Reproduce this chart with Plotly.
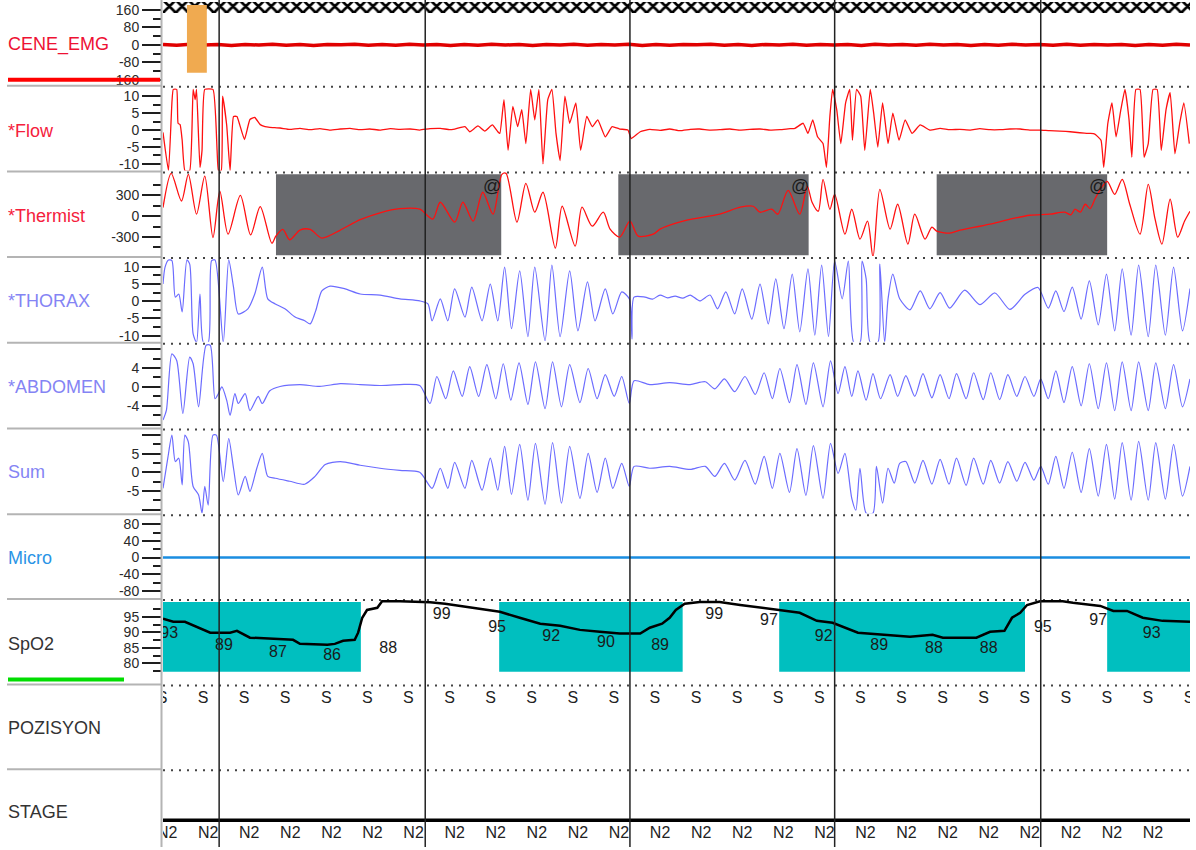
import plotly.graph_objects as go

# ---------------------------------------------------------------
# Polysomnography page: 150 s window, one row per channel
# samples are (time in s, value in channel units)
# ---------------------------------------------------------------

emg_uv = [2, -2, 3, -1, 2, -3, 2, -1, 3, -2,
          1, -3, 2, 0, 3, -2, 1, -2, 3, -1,
          2, -3, 1, -2, 3, -1, 2, -3, 1, -1,
          3, -2, 2, -1, 3, -3, 1, -2, 2, 0,
          3, -2, 1, -3, 2, -1, 3, -2, 2, -1,
          1, -3, 3, -1, 2, -2, 3, -1, 2, -3,
          1, -2, 3, -1, 1, -2, 3, -2, 2, -1,
          2, -3, 1, -2, 3, -1]

flow = [(0.0, -0.7), (0.8, -12), (1.3, 8), (1.5, 12), (2.0, 12), (2.2, 2), (2.5, 1.6), (2.8, -3),
        (3.2, -12), (3.9, -12), (4.4, 12), (4.7, 9), (4.9, 12), (5.4, -11), (5.7, -6), (6.1, 12),
        (7.3, 12), (7.9, -6), (8.1, -12), (8.5, -12), (8.7, 10), (9.3, 1.5), (9.8, -12), (10.3, 4),
        (10.8, 4), (11.2, 1.6), (11.9, -2.8), (12.7, 3.1), (13.4, 3.7), (14.2, 1.6), (14.9, 1.0),
        (15.6, 0.8), (17.1, 0.6), (18.5, 0.2), (20.0, 0.5), (21.5, 0.1), (22.9, 0.4), (24.4, 0.0),
        (25.9, 0.3), (27.3, 0.5), (28.8, 0.1), (30.2, 0.3), (31.7, 0.0), (33.2, 0.4), (34.6, 0.2),
        (36.1, 0.3), (37.5, 0.0), (39.0, 0.4), (40.5, 0.5), (41.9, 0.1), (42.6, 0.3), (44.1, 1.0),
        (44.8, -0.5), (46.0, 1.2), (47.0, -0.3), (48.1, 1.5), (48.9, -0.5),
        (49.2, -1), (49.8, 9), (50.4, -6), (51.1, 7), (51.8, 1), (52.4, 6), (53.0, -4), (53.7, 12),
        (54.3, 3), (54.9, 12), (55.5, -10), (56.2, 9), (56.8, 12), (57.4, -1), (58.0, -9), (58.7, 10),
        (59.4, 2), (60.3, 8), (61.0, -6), (61.9, 4), (62.7, 1), (63.5, 3), (64.6, -2), (65.6, 1),
        (66.7, 0.3), (67.9, 0), (68.4, -2.5), (69.7, -0.5),
        (71.1, 0.2), (72.6, -0.1), (74.0, 0.3), (75.5, -0.2), (77.0, 0.2), (78.4, 0.3), (79.9, 0.0),
        (81.3, 0.1), (82.8, 0.3), (84.3, 0.0), (85.7, 0.2), (87.2, 0.3), (88.7, 0.0), (90.1, 0.1),
        (91.6, 0.4), (92.3, 0.5),
        (93.5, 2), (94.2, -1), (94.9, 3), (95.6, -2), (96.4, -4), (96.9, -11), (97.4, 4), (97.8, 12),
        (98.4, 6), (99.0, -4), (99.7, 8), (100.3, 12), (100.7, -3), (101.3, 12), (101.9, 10),
        (102.5, -6), (103.3, 12), (103.8, 5), (104.4, -5), (105.1, 8), (105.9, -4), (106.6, 5),
        (107.5, -3), (108.4, 3), (109.4, -1), (110.6, 1.5), (112.0, 0),
        (113.5, 0.5), (114.9, 0.1), (116.4, 0.2), (117.9, 0.0), (119.3, 0.4), (120.8, 0.1),
        (122.2, 0.1), (123.7, 0.3), (125.2, 0.3), (126.6, 0.0), (128.1, 0.0), (129.5, -0.2),
        (131.0, -0.3), (132.5, -0.5), (133.9, -0.8), (135.4, -1.0), (136.1, -1.2),
        (137.0, -3), (137.4, -11), (138.0, 2), (138.6, 8), (139.2, -2), (139.9, 6), (140.5, 12),
        (141.1, 3), (141.5, -8), (142.1, 12), (142.7, 12), (143.3, -8), (143.9, -4), (144.6, 12),
        (145.2, 12), (145.8, -6), (146.5, 6), (147.1, 11), (147.8, -7), (148.5, 2), (149.1, 8),
        (149.9, -4)]

thermist = [(0.0, 125), (1.2, 620), (2.7, 220), (3.7, 605), (4.9, 30), (6.1, 580), (7.3, -307),
            (8.3, 364), (9.5, -259), (11.3, 300), (12.8, -270), (14.2, 140), (15.9, -390),
            (16.5, -285), (17.5, -190), (18.5, -340), (20.0, -200), (21.5, -190), (23.2, -315),
            (25.9, -200), (28.8, -50), (31.7, 50), (34.6, 110), (37.5, 101), (39.4, -43),
            (40.5, 202), (42.6, -86), (43.8, 202), (45.3, -72), (46.7, 346), (48.2, 29),
            (49.5, 605), (50.1, 619), (51.7, -86), (53.0, 475), (54.3, 58), (55.5, 346),
            (57.3, -461), (58.3, 144), (60.2, -432), (61.2, 130), (62.7, -144), (64.3, 58),
            (65.3, -187), (66.7, -302), (68.2, -72), (69.4, -288), (71.6, -259), (72.6, -187),
            (76.5, -58), (81.3, 29), (84.3, 130), (86.2, 144), (87.2, 58), (88.9, 101), (89.8, 29),
            (91.3, 374), (93.0, 29), (94.1, 432), (94.8, 202), (95.7, 72),
            (96.4, 533), (97.4, 101), (98.1, 317), (99.6, -259), (100.6, 101), (101.8, -331),
            (102.9, -72), (103.7, -590), (104.7, 389), (106.2, -187), (107.3, 173), (108.8, -403),
            (109.8, 29), (111.3, -331), (112.3, -158), (113.0, -216), (114.9, -245), (116.4, -202),
            (118.6, -158), (120.8, -115), (123.7, -43), (126.6, 14), (129.5, 29), (131.7, 58),
            (132.6, 20), (133.2, 101), (134.0, 60), (134.7, 173), (135.4, 110), (136.1, 245),
            (136.9, 389), (137.9, 504), (139.0, 317), (140.1, 533), (141.2, 173), (142.7, -259),
            (143.9, 461), (144.9, -43), (145.9, -403), (147.1, 245), (148.2, -302), (149.2, -72),
            (150.0, 72)]

thorax = [(0.0, 5.0), (0.3, 9.9), (0.8, 12), (1.3, 11.8), (1.8, 1.2), (2.3, 2.1), (2.8, -3.1),
          (3.5, 12), (3.9, 10.8), (4.4, -9.5), (4.9, -12), (5.4, 2.1), (5.9, -12), (6.6, -12),
          (7.1, 11.8), (7.6, 12), (8.8, -12), (9.6, 12), (10.3, 4.1), (11.0, -3.7),
          (12.4, -2.2), (13.4, 2.1), (14.5, 9.9), (15.3, 0.7), (16.4, -0.8), (17.8, -2.2),
          (19.3, -4.6), (20.7, -5.7), (21.5, -6.6), (22.3, -2.8), (23.2, 3.0), (24.4, 4.4),
          (26.6, 3.6), (28.8, 2.1), (31.7, 1.8), (34.6, 0.7), (37.5, 0.1), (38.7, -0.8),
          (39.3, -5.7), (40.5, 0.7), (41.6, -5.7), (42.6, 3.6), (44.1, -4.6), (45.1, 4.1),
          (46.6, -5.7), (47.8, 5.0), (48.9, -5.7),
          (49.9, 9.9), (50.9, -8.0), (52.1, 8.8), (53.3, -10.3), (54.3, 9.9), (55.8, -11.5),
          (56.8, 10.5), (58.0, -10.3), (59.4, 8.8), (60.6, -8.6), (62.0, 5.6), (63.1, -5.7),
          (64.6, 3.6), (65.7, -3.7), (67.0, 2.7), (68.1, 0.7), (68.5, -11), (68.8, 1.2),
          (70.4, 1.2), (71.5, 0.6), (72.6, 1.8), (73.7, 1.0), (74.8, 1.5), (75.9, 0.9), (77.0, 1.8),
          (78.4, 0.1), (79.9, 1.8), (81.0, -2.2), (82.2, 2.7), (83.5, -3.7), (84.6, 3.6),
          (86.0, -5.2), (87.2, 5.0), (88.4, -6.6), (89.5, 6.5), (90.7, -8.0), (91.9, 7.9),
          (93.0, -8.9), (94.2, 9.4), (95.2, -9.9), (96.2, 10.5), (97.2, -10.3), (98.1, 11.7),
          (99.2, 0.7), (100.1, 11.7), (100.9, -12), (101.8, -12), (102.1, 11.7), (102.7, 6.5),
          (103.3, -12), (104.4, -12), (104.7, 10.8), (105.4, -12), (105.9, 0.7), (106.6, 7.9),
          (107.6, 0.7), (109.1, -2.5), (110.6, 3.0), (112.0, -2.2), (113.5, 2.5), (114.9, -2.0),
          (117.1, 3.2), (119.3, -1.0), (121.5, 2.4), (123.7, -2.4), (125.9, 2.0), (127.8, 4.0),
          (129.3, -2.0), (130.4, 3.0), (131.6, -3.0), (132.8, 4.1), (134.1, -5.2), (135.3, 5.9),
          (136.6, -6.9), (137.8, 7.9), (139.0, -8.6), (140.1, 9.4), (141.4, -9.9), (142.5, 10.5),
          (143.9, -10.3), (145.0, 10.5), (146.4, -9.9), (147.6, 9.9), (148.9, -8.6), (150.0, 3.7)]

abdomen = [(0.0, -7.0), (0.5, -4.9), (1.3, 7.0), (2.0, 5.6), (2.9, -5.6), (3.9, 6.3), (4.4, 4.9),
           (5.2, -4.2), (6.3, 8.8), (6.9, 8.8), (7.6, -2.5), (8.1, -1.4), (8.6, 0.0), (9.3, -2.8),
           (9.8, -6.0), (10.5, -1.4), (11.0, -3.5), (12.0, -1.4), (12.7, -5.0), (13.9, -2.0),
           (14.5, -3.5), (15.6, -0.8), (17.1, 0.1), (20.0, 0.5), (22.9, 0.1), (25.9, 0.7),
           (28.8, 0.5), (31.7, 0.3), (34.6, 0.5), (37.5, 0.3),
           (39.0, -3.5), (40.0, 2.2), (41.3, -2.5), (42.4, 3.4), (43.7, -2.0), (44.8, 4.3),
           (46.1, -2.0), (47.3, 4.7), (48.6, -2.5),
           (49.7, 4.9), (50.8, -2.8), (52.0, 5.1), (53.3, -3.7), (54.4, 5.3), (55.8, -4.6),
           (56.9, 5.3), (58.2, -4.2), (59.4, 4.7), (60.9, -3.3), (62.1, 3.9), (63.4, -2.5),
           (64.6, 2.6), (65.9, -2.0), (67.0, 2.2), (68.1, -3.5), (68.8, 1.3),
           (71.1, 0.5), (74.0, 0.9), (77.0, 0.5), (79.2, 1.1), (80.6, -0.4), (82.0, 1.7),
           (83.5, -1.0), (85.0, 2.2), (86.5, -1.6), (87.8, 3.0), (89.0, -2.5), (90.1, 3.9),
           (91.5, -3.3), (92.6, 4.7), (93.9, -3.7), (95.0, 5.1), (96.4, -4.2), (97.5, 5.5),
           (98.6, -1.4), (99.6, 4.3), (100.6, -2.0), (101.5, 3.4), (102.7, -2.8), (103.7, 2.8),
           (104.8, -2.5), (106.2, 2.6), (107.3, -2.0), (108.5, 2.4), (109.8, -2.0), (111.0, 2.8),
           (112.3, -2.3), (113.5, 2.6), (114.8, -2.5), (115.9, 2.8), (117.3, -2.5), (118.4, 3.0),
           (119.8, -2.7), (120.9, 3.0), (122.2, -2.7), (123.4, 2.6), (124.7, -2.0), (125.9, 2.2),
           (127.2, -2.0), (128.2, 1.7), (129.3, -2.5), (130.4, 3.4), (131.6, -3.3), (132.8, 4.3),
           (134.1, -4.0), (135.3, 4.9), (136.6, -4.6), (137.8, 5.1), (139.0, -5.0), (140.1, 5.3),
           (141.4, -5.0), (142.5, 5.3), (143.9, -5.0), (145.0, 5.1), (146.4, -4.6), (147.6, 4.7),
           (148.9, -4.2), (150.0, 1.7)]

effort_sum = [(0.0, -4.3), (0.7, 3.8), (1.3, 10), (1.8, 2.9), (2.3, 3.8), (2.8, -3.4), (3.2, 10),
              (3.7, 8.2), (4.4, -3.8), (5.2, -6.1), (5.7, -11), (6.1, -3.8), (6.6, -8.8), (7.3, 10),
              (7.8, 10), (8.8, -2.5), (9.6, 9.1), (10.3, 1.1), (11.0, -6.1), (12.0, -1.1),
              (12.7, -5.1), (13.7, 1.1), (14.5, 5.1), (15.3, -1.1), (16.4, -1.6), (18.5, -2.4),
              (20.7, -3.2), (22.2, -1.1), (23.7, 2.1), (25.9, 2.9), (28.8, 1.9), (31.7, 1.1),
              (34.6, 0.5), (37.5, 0.0),
              (39.3, -4.3), (40.5, 1.1), (41.6, -4.3), (42.6, 2.7), (44.1, -4.3), (45.1, 3.2),
              (46.6, -4.8), (47.8, 3.8), (48.9, -4.8),
              (49.9, 7.0), (50.9, -5.9), (52.1, 7.5), (53.3, -7.5), (54.4, 7.8), (55.8, -8.6),
              (56.9, 8.0), (58.2, -8.3), (59.4, 7.0), (60.9, -7.0), (62.1, 5.1), (63.4, -5.4),
              (64.6, 3.8), (65.7, -4.3), (67.0, 2.4), (68.1, -3.8), (68.8, 1.6),
              (71.1, 1.1), (74.0, 1.6), (77.0, 0.8), (79.2, 1.6), (80.6, -1.1), (82.0, 2.4),
              (83.5, -2.1), (85.0, 3.2), (86.5, -3.2), (87.8, 4.3), (89.0, -4.3), (90.1, 5.1),
              (91.5, -5.4), (92.6, 6.4), (93.9, -6.2), (95.0, 7.2), (96.4, -7.0), (97.5, 7.8),
              (98.6, -0.3), (99.6, 5.1), (100.6, -7.0), (101.2, -10.2), (101.8, 1.1), (102.7, -11),
              (103.7, -11), (104.2, 1.6), (105.1, -8.3), (105.9, 1.1), (106.8, -2.9), (107.6, 2.4),
              (108.5, 2.9), (109.8, -2.9), (111.0, 3.2), (112.3, -3.2), (113.5, 3.5), (114.8, -3.2),
              (115.9, 3.8), (117.3, -3.5), (118.4, 3.8), (119.8, -3.2), (120.9, 3.2), (122.2, -2.9),
              (123.4, 2.9), (124.7, -2.4), (125.9, 2.7), (127.2, -2.1), (128.2, 1.6),
              (129.3, -3.2), (130.4, 4.3), (131.6, -4.3), (132.8, 5.4), (134.1, -5.4), (135.3, 6.4),
              (136.6, -6.4), (137.8, 7.5), (139.0, -7.2), (140.1, 8.0), (141.4, -7.5), (142.5, 8.3),
              (143.9, -7.5), (145.0, 8.0), (146.4, -7.2), (147.6, 7.5), (148.9, -6.4), (150.0, 1.6)]

micro = [(0.0, 0), (150.0, 0)]

spo2 = [(0.0, 94.4), (1.5, 93.4), (3.2, 93.4), (5.1, 91.5), (6.9, 89.9), (9.8, 89.9), (10.8, 90.5),
        (12.7, 88.3), (15.6, 87.9), (19.0, 87.6), (20.0, 86.3), (24.0, 86.0), (25.1, 86.3),
        (26.3, 87.3), (28.0, 87.6), (28.5, 89.9), (29.1, 94.7), (29.8, 97.2), (31.3, 97.9),
        (32.0, 100.0), (34.6, 100.0), (39.0, 99.7), (41.2, 99.2), (43.4, 98.5), (46.3, 97.6),
        (49.2, 96.6), (52.1, 94.7), (55.1, 92.8), (58.0, 92.1), (60.9, 90.8), (63.8, 90.2),
        (66.7, 89.6), (69.7, 89.6), (71.1, 91.5), (72.9, 92.8), (74.0, 94.7), (74.9, 97.2),
        (76.2, 99.2), (78.4, 99.8), (81.3, 99.8), (84.3, 98.8), (87.2, 97.9), (90.1, 97.2),
        (93.0, 96.3), (95.5, 93.7), (97.8, 93.1), (101.5, 89.9), (106.2, 89.2), (109.1, 88.6),
        (112.4, 89.2), (113.9, 88.3), (118.8, 88.3), (120.8, 90.2), (122.9, 90.5), (124.0, 94.7),
        (125.2, 96.3), (126.2, 98.8), (128.1, 100.0), (131.4, 100.0), (132.9, 99.5),
        (136.9, 98.5), (138.8, 96.9), (140.8, 96.9), (143.1, 94.7), (146.0, 93.7), (150.0, 93.4)]

spo2_label_t = [0.9, 8.9, 16.8, 24.7, 32.9, 40.7, 48.8, 56.7, 64.7, 72.6,
                80.5, 88.5, 96.5, 104.6, 112.6, 120.6, 128.5, 136.6, 144.4]
spo2_label_v = [93, 89, 87, 86, 88, 99, 95, 92, 90, 89,
                99, 97, 92, 89, 88, 88, 95, 97, 93]

# scored events
epoch_marks = [8.2, 38.3, 68.2, 98.1, 128.2]
apnea_windows = [(16.5, 49.4), (66.5, 94.3), (113.0, 137.9)]
desat_windows = [(0.0, 28.9), (49.1, 75.9), (90.0, 125.9), (137.9, 150.0)]
arousal_window = (3.5, 6.4)

# body position and sleep stage per 6 s mini-epoch
position_t = [-0.15, 5.85, 11.85, 17.85, 23.85, 29.85, 35.85, 41.85, 47.85, 53.85, 59.85,
              65.85, 71.85, 77.85, 83.85, 89.85, 95.85, 101.85, 107.85, 113.85, 119.85,
              125.85, 131.85, 137.85, 143.85, 149.85]
position_code = ["S"] * len(position_t)
stage_t = [0.6, 6.6, 12.6, 18.6, 24.6, 30.6, 36.6, 42.6, 48.6, 54.6, 60.6, 66.6, 72.6, 78.6,
           84.6, 90.6, 96.6, 102.6, 108.6, 114.6, 120.6, 126.6, 132.6, 138.6, 144.6]
stage_code = ["N2"] * len(stage_t)

# ---------------------------------------------------------------
W, H = 1196, 850
L, R = 163, 6
PLOT_W = W - L - R
FONT = "Liberation Sans, Arial, sans-serif"

rows_px = [(0, 85), (85, 171), (171, 257), (257, 343), (343, 429),
           (429, 515), (515, 600), (600, 686), (686, 771), (771, 850)]


def dom(i):
    top, bot = rows_px[i]
    return [1 - bot / H, 1 - top / H]


def px_x(px):
    return (px - L) / PLOT_W


def px_y(py):
    return 1 - py / H


def split(pairs):
    return [p[0] for p in pairs], [p[1] for p in pairs]


def yax(i, rng, major=None, text=None, minor=None):
    a = dict(domain=dom(i), range=rng, anchor="x", showgrid=False, zeroline=False,
             showline=False, fixedrange=True)
    if major is None:
        a.update(visible=False)
        return a
    a.update(tickmode="array", tickvals=major,
             ticktext=text if text else [str(v) for v in major],
             ticks="outside", ticklen=20, tickwidth=2, tickcolor="#1e1e1e",
             tickfont=dict(family=FONT, size=14, color="#2a2a2a"),
             minor=dict(tickmode="array", tickvals=minor, ticks="outside", ticklen=9,
                        tickwidth=2, tickcolor="#1e1e1e"))
    return a


fig = go.Figure()

RED = "#ff1010"
BLUE = "#6c6cff"

# hatched event strip along the top of the EMG row
fig.add_trace(go.Scatter(x=[0, 150, 150, 0, 0], y=[146, 146, 197, 197, 146], yaxis="y",
                         mode="lines", fill="toself", fillcolor="white", line=dict(width=0),
                         fillpattern=dict(shape="x", size=9, solidity=0.5, fgcolor="#000",
                                          fgopacity=1, bgcolor="white"),
                         hoverinfo="skip"))

emg_t = [i * 150 / (len(emg_uv) - 1) for i in range(len(emg_uv))]
fig.add_trace(go.Scatter(x=emg_t, y=emg_uv, yaxis="y", mode="lines",
                         line=dict(color="#e00000", width=3.5)))

channels = [(flow, "y2", RED, 1.3, 0.4), (thermist, "y3", RED, 1.3, 0.8),
            (thorax, "y4", BLUE, 1.2, 0.7), (abdomen, "y5", BLUE, 1.2, 0.7),
            (effort_sum, "y6", BLUE, 1.2, 0.7), (micro, "y7", "#1a8de0", 2.5, 0),
            (spo2, "y8", "#000000", 2.5, 0)]
for pairs, ya, col, w, sm in channels:
    t, v = split(pairs)
    line = dict(color=col, width=w)
    if sm:
        line.update(shape="spline", smoothing=sm)
    fig.add_trace(go.Scatter(x=t, y=v, yaxis=ya, mode="lines", line=line))

# SpO2 value read-outs, printed just beneath each reading
LABEL_DROP = 3.5
fig.add_trace(go.Scatter(x=spo2_label_t, y=[v - LABEL_DROP for v in spo2_label_v], yaxis="y8",
                         mode="text", text=[str(v) for v in spo2_label_v], cliponaxis=True,
                         textfont=dict(family=FONT, size=16, color="#1a1a1a")))

# position row
fig.add_trace(go.Scatter(x=position_t, y=[0.82] * len(position_t), yaxis="y9", mode="text",
                         text=position_code, cliponaxis=True,
                         textfont=dict(family=FONT, size=16, color="#222")))

# hypnogram row: stage line at N2 plus per-epoch stage codes
N2_LEVEL = 0.34
fig.add_trace(go.Scatter(x=[0, 150], y=[N2_LEVEL, N2_LEVEL], yaxis="y10", mode="lines",
                         line=dict(color="#000", width=3.5)))
fig.add_trace(go.Scatter(x=stage_t, y=[0.17] * len(stage_t), yaxis="y10", mode="text",
                         text=stage_code, cliponaxis=True,
                         textfont=dict(family=FONT, size=16, color="#222")))

shapes = []
# apnea events on the thermistor channel
for a, b in apnea_windows:
    shapes.append(dict(type="rect", xref="x", yref="y3", x0=a, x1=b, y0=-562, y1=605,
                       fillcolor="#68696d", line=dict(width=0), layer="below"))
# desaturation events on SpO2
for a, b in desat_windows:
    shapes.append(dict(type="rect", xref="x", yref="y8", x0=a, x1=b, y0=77.3, y1=99.8,
                       fillcolor="#00bfbf", line=dict(width=0), layer="below"))
# arousal marker on EMG
shapes.append(dict(type="rect", xref="x", yref="y", x0=arousal_window[0], x1=arousal_window[1],
                   y0=-128, y1=183, fillcolor="#f0aa50", line=dict(width=0), layer="above"))

# dotted row separators in the trace area and panel borders on the label side
for top, bot in rows_px[1:]:
    shapes.append(dict(type="line", xref="paper", yref="paper", x0=0, x1=1,
                       y0=px_y(top + 2), y1=px_y(top + 2),
                       line=dict(color="#444", width=2, dash="2px,6px"), layer="below"))
    shapes.append(dict(type="line", xref="paper", yref="paper", x0=px_x(7), x1=px_x(161),
                       y0=px_y(top + 1), y1=px_y(top + 1),
                       line=dict(color="#b4b4b4", width=2)))
shapes.append(dict(type="line", xref="paper", yref="paper", x0=px_x(161.5), x1=px_x(161.5),
                   y0=0, y1=1, line=dict(color="#b4b4b4", width=2)))
# channel colour keys
shapes.append(dict(type="line", xref="paper", yref="paper", x0=px_x(8), x1=px_x(160),
                   y0=px_y(80), y1=px_y(80), line=dict(color="#ff0000", width=4)))
shapes.append(dict(type="line", xref="paper", yref="paper", x0=px_x(8), x1=px_x(124),
                   y0=px_y(682), y1=px_y(682), line=dict(color="#00dd00", width=4)))

# 30 s epoch boundaries
for t in epoch_marks:
    shapes.append(dict(type="line", xref="x", yref="paper", x0=t, x1=t, y0=0, y1=1,
                       line=dict(color="#222", width=1.5), layer="above"))

annotations = []
labels = [("CENE_EMG", 45, "#ee1133"), ("*Flow", 131, "#f5203c"), ("*Thermist", 217, "#f5203c"),
          ("*THORAX", 302, "#8484f4"), ("*ABDOMEN", 388, "#8484f4"), ("Sum", 474, "#8484f4"),
          ("Micro", 560, "#2a94e6"), ("SpO2", 646, "#333"), ("POZISYON", 731, "#333"),
          ("STAGE", 815, "#333")]
for txt, py, col in labels:
    annotations.append(dict(text=txt, xref="paper", yref="paper", x=px_x(6), y=px_y(py),
                            xanchor="left", yanchor="middle", showarrow=False,
                            font=dict(family=FONT, size=18, color=col)))
for a, b in apnea_windows:
    annotations.append(dict(text="@", xref="x", yref="y3", x=b - 1.3, y=430, showarrow=False,
                            font=dict(family=FONT, size=18, color="#1a1a1a")))

fig.update_layout(
    width=W, height=H, margin=dict(l=L, r=R, t=0, b=0),
    paper_bgcolor="white", plot_bgcolor="white", showlegend=False, hovermode=False,
    xaxis=dict(domain=[0, 1], range=[0, 150], visible=False, anchor="y10", fixedrange=True),
    yaxis=yax(0, [-182.9, 205.7], [-160, -80, 0, 80, 160], None, [-120, -40, 40, 120]),
    yaxis2=yax(1, [-11.91, 13.38], [-10, -5, 0, 5, 10], None, [-7.5, -2.5, 2.5, 7.5]),
    yaxis3=yax(2, [-576, 662], [-300, 0, 300], None, [-450, -150, 150, 450]),
    yaxis4=yax(3, [-11.80, 13.13], [-10, -5, 0, 5, 10], None, [-7.5, -2.5, 2.5, 7.5]),
    yaxis5=yax(4, [-8.57, 9.54], [-8, -4, 0, 4, 8], ["", "-4", "0", "4", ""], [-6, -2, 2, 6]),
    yaxis6=yax(5, [-10.99, 12.06], [-10, -5, 0, 5, 10], ["", "-5", "0", "5", ""],
               [-7.5, -2.5, 2.5, 7.5]),
    yaxis7=yax(6, [-96.7, 106.3], [-80, -40, 0, 40, 80], None, [-60, -20, 20, 60]),
    yaxis8=yax(7, [73.53, 101.09], [80, 85, 90, 95], None, [77.5, 82.5, 87.5, 92.5, 97.5]),
    yaxis9=yax(8, [0, 1]),
    yaxis10=yax(9, [0, 1]),
    shapes=shapes, annotations=annotations,
)

fig.write_html("out.html", config={"displayModeBar": False, "staticPlot": True})
